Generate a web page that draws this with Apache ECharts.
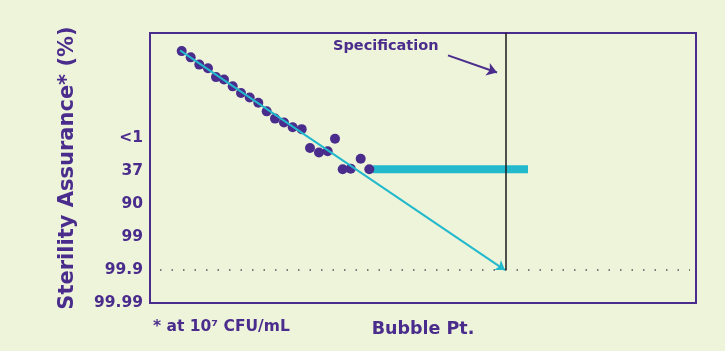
<!DOCTYPE html>
<html>
<head>
<meta charset="utf-8">
<script src="https://cdn.jsdelivr.net/npm/echarts@6/dist/echarts.min.js"></script>
<style>
  html, body { margin: 0; padding: 0; background: #eef4da; }
  #chart { width: 725px; height: 351px; }
</style>
</head>
<body>
<div id="chart"></div>
<script>
// y index: 0 = 99.99, 1 = 99.9 ... 5 = <1
var yLabels = ['99.99', '99.9', '99', '90', '37', '<1'];

// measured points (bubble point units, assurance index)
var dotX = [31.7, 40.7, 49.3, 58, 66, 74, 82.7, 91, 99.7, 108.3, 116.7, 125, 134, 142.7, 151.7, 160, 169, 177.7, 185, 192.7, 200.7, 210.7, 219.3];
var dotY = [7.65, 7.46, 7.24, 7.13, 6.86, 6.79, 6.58, 6.38, 6.24, 6.08, 5.82, 5.60, 5.48, 5.34, 5.28, 4.71, 4.57, 4.61, 4.99, 4.06, 4.08, 4.38, 4.06];

var fitStart = [30, 7.67];
var fitEnd = [355, 1.0];
var plateau = [[223, 4.06], [378, 4.06]];
var specX = 356;
var limitY = 1;
var dotted = [[10, 1], [540, 1]];

var purple = '#4a2c8c';
var teal = '#22b9cc';

var dots = [];
for (var i = 0; i < dotX.length; i++) {
    dots.push([dotX[i], dotY[i]]);
}

var chart = echarts.init(document.getElementById('chart'));
var option = {
    backgroundColor: '#eef4da',
    animation: false,
    grid: {
        left: 150, top: 33, right: 29, bottom: 48,
        show: true,
        borderColor: purple,
        borderWidth: 2,
        backgroundColor: 'transparent'
    },
    xAxis: {
        type: 'value',
        min: 0, max: 546,
        axisLine: { show: false },
        axisTick: { show: false },
        axisLabel: { show: false },
        splitLine: { show: false },
        name: 'Bubble Pt.',
        nameLocation: 'middle',
        nameGap: 17,
        nameTextStyle: { color: purple, fontSize: 17.5, fontWeight: 'bold', fontFamily: 'DejaVu Sans' }
    },
    yAxis: {
        type: 'value',
        min: 0, max: 8.2,
        interval: 1,
        axisLine: { show: false },
        axisTick: { show: false },
        splitLine: { show: false },
        axisLabel: {
            color: purple,
            fontSize: 15.5,
            fontWeight: 'bold',
            fontFamily: 'DejaVu Sans',
            margin: 7,
            formatter: function (v) { return yLabels[v] || ''; }
        },
        name: 'Sterility Assurance* (%)',
        nameLocation: 'middle',
        nameRotate: 90,
        nameGap: 72,
        nameTextStyle: { color: purple, fontSize: 21, fontWeight: 'bold', fontFamily: 'DejaVu Sans' }
    },
    series: [
        {
            type: 'line',
            data: dotted,
            symbol: 'none',
            lineStyle: { color: '#555555', width: 1.5, type: [1.5, 10] },
            z: 1
        },
        {
            type: 'line',
            data: plateau,
            symbol: 'none',
            lineStyle: { color: teal, width: 8 },
            z: 2
        },
        {
            type: 'scatter',
            data: dots,
            symbolSize: 10,
            itemStyle: { color: purple, opacity: 1 },
            z: 4,
            markLine: {
                silent: true,
                label: { show: false },
                data: [
                    [
                        { coord: fitStart, symbol: 'none', lineStyle: { color: teal, width: 2, type: 'solid' } },
                        { coord: fitEnd, symbol: 'arrow', symbolSize: 9 }
                    ],
                    [
                        { coord: [specX, limitY], symbol: 'none', lineStyle: { color: '#1a1a1a', width: 1.5, type: 'solid' } },
                        { coord: [specX, 8.2], symbol: 'none' }
                    ],
                    [
                        { coord: [298, 7.52], symbol: 'none', lineStyle: { color: purple, width: 2, type: 'solid' } },
                        { coord: [347, 7.0], symbol: 'arrow', symbolSize: 10 }
                    ]
                ]
            }
        }
    ],
    graphic: [
        {
            type: 'text', left: 333, top: 39,
            style: { text: 'Specification', fill: purple, font: 'bold 14.5px "DejaVu Sans"' }
        },
        {
            type: 'text', left: 153, top: 319,
            style: { text: '* at 10\u2077 CFU/mL', fill: purple, font: 'bold 15.5px "DejaVu Sans"' }
        }
    ]
};
chart.setOption(option);
</script>
</body>
</html>
